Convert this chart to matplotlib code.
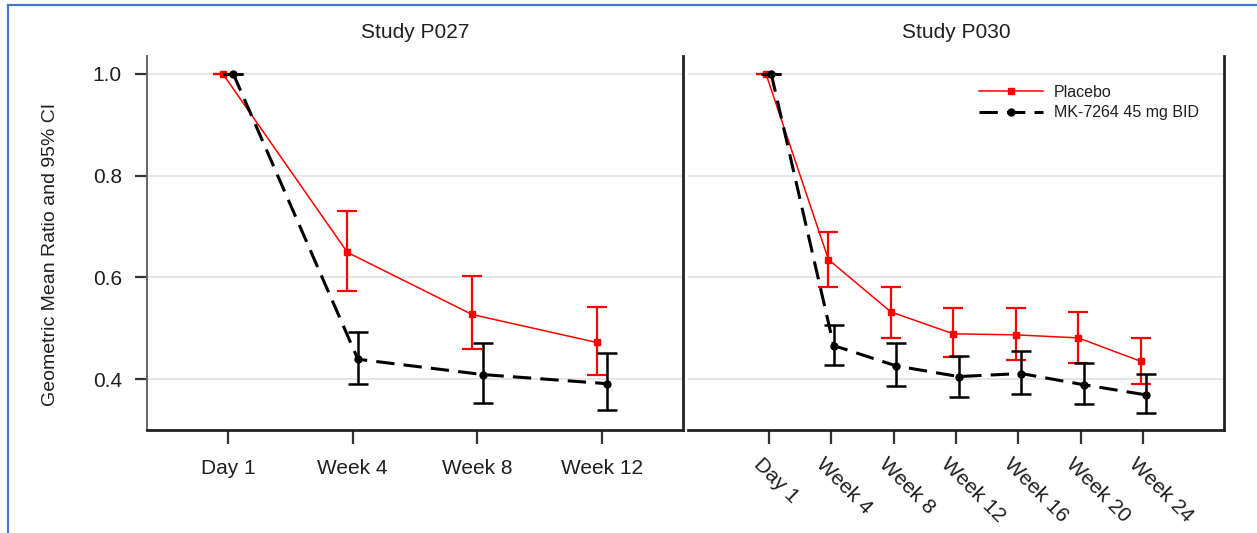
import matplotlib
matplotlib.use("Agg")
import matplotlib.pyplot as plt
import matplotlib.transforms as mtransforms
from matplotlib.lines import Line2D
import numpy as np

plt.rcParams['font.family'] = ['Liberation Sans', 'DejaVu Sans']

# Study P027
p027_visits = ["Day 1", "Week 4", "Week 8", "Week 12"]
p027_pbo_mean = [1.0, 0.649, 0.527, 0.472]
p027_pbo_low = [1.0, 0.573, 0.459, 0.409]
p027_pbo_high = [1.0, 0.730, 0.603, 0.542]
p027_mk_mean = [1.0, 0.439, 0.409, 0.391]
p027_mk_low = [1.0, 0.390, 0.354, 0.339]
p027_mk_high = [1.0, 0.493, 0.470, 0.451]

# Study P030
p030_visits = ["Day 1", "Week 4", "Week 8", "Week 12", "Week 16", "Week 20", "Week 24"]
p030_pbo_mean = [1.0, 0.635, 0.532, 0.489, 0.487, 0.481, 0.435]
p030_pbo_low = [1.0, 0.582, 0.481, 0.444, 0.437, 0.432, 0.390]
p030_pbo_high = [1.0, 0.689, 0.582, 0.539, 0.539, 0.532, 0.481]
p030_mk_mean = [1.0, 0.466, 0.426, 0.405, 0.411, 0.389, 0.369]
p030_mk_low = [1.0, 0.428, 0.387, 0.365, 0.371, 0.351, 0.333]
p030_mk_high = [1.0, 0.506, 0.470, 0.445, 0.455, 0.431, 0.411]

RED = "#ff0000"
TXT = "#1f1f1f"
DODGE = 0.042
MK_DASH = (0, (6, 3))


def draw_panel(ax, visits, pm, pl, ph, mm, ml, mh):
    x = np.arange(len(visits))
    pm, pl, ph = map(np.array, (pm, pl, ph))
    mm, ml, mh = map(np.array, (mm, ml, mh))

    for y in [0.4, 0.6, 0.8, 1.0]:
        ax.axhline(y, color="#e6e6e6", lw=1.4, zorder=0)

    ax.errorbar(x - DODGE, pm, yerr=[pm - pl, ph - pm], color=RED, lw=1.1,
                elinewidth=1.6, capsize=7, capthick=1.6, marker="s", ms=4.5,
                zorder=2)
    ax.errorbar(x + DODGE, mm, yerr=[mm - ml, mh - mm], color="black", lw=2.2,
                ls=MK_DASH, elinewidth=1.8, capsize=7, capthick=1.8,
                marker="o", ms=5, zorder=3)

    ax.set_ylim(0.30, 1.035)
    ax.set_xticks(x)
    ax.spines["top"].set_visible(False)
    for s in ["bottom", "right"]:
        ax.spines[s].set_linewidth(2.0)
        ax.spines[s].set_color("#222222")
    ax.tick_params(axis="x", direction="out", length=10, width=1.6,
                   color="#333333", pad=11, labelsize=15, labelcolor=TXT)


fig = plt.figure(figsize=(12.57, 5.33), dpi=100)
ax1 = fig.add_axes([147 / 1257, 103 / 533, 536 / 1257, 374 / 533])
ax2 = fig.add_axes([688 / 1257, 103 / 533, 536 / 1257, 374 / 533])

draw_panel(ax1, p027_visits, p027_pbo_mean, p027_pbo_low, p027_pbo_high,
           p027_mk_mean, p027_mk_low, p027_mk_high)
draw_panel(ax2, p030_visits, p030_pbo_mean, p030_pbo_low, p030_pbo_high,
           p030_mk_mean, p030_mk_low, p030_mk_high)

# left panel
ax1.set_xlim(-0.65, 3.65)
ax1.set_xticklabels(p027_visits)
ax1.set_yticks([0.4, 0.6, 0.8, 1.0])
ax1.set_yticklabels(["0.4", "0.6", "0.8", "1.0"])
ax1.spines["left"].set_color("#666666")
ax1.spines["left"].set_linewidth(1.4)
ax1.tick_params(axis="y", direction="out", length=9, width=1.6,
                color="#333333", pad=9, labelsize=15, labelcolor=TXT)
ax1.set_ylabel("Geometric Mean Ratio and 95% CI", fontsize=14, color=TXT)
ax1.yaxis.set_label_coords(-0.165, 0.47)
ax1.set_title("Study P027", fontsize=15, color=TXT, pad=13)

# right panel, slanted visit labels
ax2.set_xlim(-1.29, 7.29)
ax2.set_xticklabels(p030_visits, rotation=-45, ha="left", va="center",
                    rotation_mode="anchor")
ax2.tick_params(axis="x", pad=16)
shift = mtransforms.ScaledTranslation(-12 / 100, 5 / 100, fig.dpi_scale_trans)
for lbl in ax2.get_xticklabels():
    lbl.set_transform(lbl.get_transform() + shift)
ax2.set_yticks([])
ax2.spines["left"].set_visible(False)
ax2.set_title("Study P030", fontsize=15, color=TXT, pad=13)

handles = [
    Line2D([], [], color=RED, lw=1.1, marker="s", ms=5),
    Line2D([], [], color="black", lw=2.2, ls=MK_DASH, marker="o", ms=5),
]
leg = ax2.legend(handles, ["Placebo", "MK-7264 45 mg BID"], loc="upper left",
                 bbox_to_anchor=(0.543, 0.923), frameon=False, fontsize=11.5,
                 handlelength=4.0, handletextpad=0.7, labelspacing=0.35,
                 borderpad=0, borderaxespad=0)
for t in leg.get_texts():
    t.set_color(TXT)

# blue outline along the top and left edges
fig.add_artist(Line2D([8 / 1257, 1.0], [1 - 5 / 533, 1 - 5 / 533],
                      transform=fig.transFigure, color="#4a76c6", lw=1.6))
fig.add_artist(Line2D([8 / 1257, 8 / 1257], [0.0, 1 - 5 / 533],
                      transform=fig.transFigure, color="#4a76c6", lw=1.6))

fig.savefig("out.png", dpi=100)
